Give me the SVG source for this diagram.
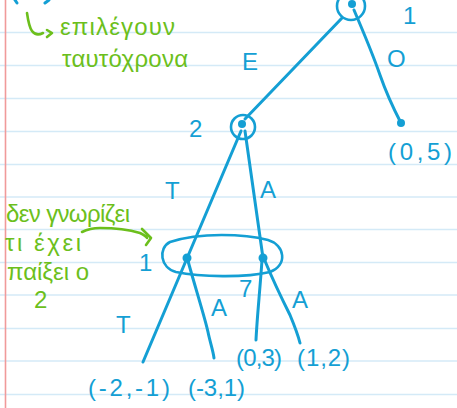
<svg xmlns="http://www.w3.org/2000/svg" width="457" height="408" viewBox="0 0 457 408">
<style>
.rule{stroke:#d4eaf7;stroke-width:1.6}
.b{stroke:#149fd4;fill:none;stroke-width:3;stroke-linecap:round;stroke-linejoin:round}
.bc{stroke:#149fd4;fill:none;stroke-width:2.6}
.dot{fill:#149fd4}
.bt{fill:#149fd4;font-family:"Liberation Sans","DejaVu Sans",sans-serif;font-size:24px}
.g{stroke:#6cbf1c;fill:none;stroke-width:2.6;stroke-linecap:round;stroke-linejoin:round}
.gt{fill:#6cbf1c;font-family:"Liberation Sans","DejaVu Sans",sans-serif;font-size:24px}
</style>
<rect width="457" height="408" fill="#ffffff"/>
<g id="paper">
<line class="rule" x1="0" y1="32.5" x2="457" y2="32.5"/>
<line class="rule" x1="0" y1="65.5" x2="457" y2="65.5"/>
<line class="rule" x1="0" y1="98.5" x2="457" y2="98.5"/>
<line class="rule" x1="0" y1="131.5" x2="457" y2="131.5"/>
<line class="rule" x1="0" y1="164.5" x2="457" y2="164.5"/>
<line class="rule" x1="0" y1="197" x2="457" y2="197"/>
<line class="rule" x1="0" y1="229.5" x2="457" y2="229.5"/>
<line class="rule" x1="0" y1="262.5" x2="457" y2="262.5"/>
<line class="rule" x1="0" y1="295" x2="457" y2="295"/>
<line class="rule" x1="0" y1="328.5" x2="457" y2="328.5"/>
<line class="rule" x1="0" y1="361" x2="457" y2="361"/>
<line class="rule" x1="0" y1="394.5" x2="457" y2="394.5"/>
<line x1="5.5" y1="0" x2="5.5" y2="408" stroke="#f09a9a" stroke-width="1.6"/>
<path class="b" d="M15,0 L17,3 M45,3 L49,0" stroke-width="2.5"/>
</g>
<g id="connectors">
<line class="b" x1="342" y1="18" x2="245" y2="119"/>
<path class="b" d="M354,10 Q372,52 380,75 Q388,98 401,123"/>
<line class="b" x1="241" y1="131" x2="143" y2="362"/>
<line class="b" x1="245" y1="131" x2="263" y2="258"/>
<path class="b" d="M188,261 C196,290 205,318 208,332 C210,342 213,350 214,358"/>
<path class="b" d="M262,260 C260,290 257,318 256,340"/>
<path class="b" d="M265,261 C275,285 285,305 290,315 C295,327 298,335 300,343"/>
</g>
<g id="node1">
<circle class="bc" cx="351" cy="6" r="14"/>
<circle class="dot" cx="352" cy="4" r="4"/>
<text class="bt" x="403" y="24" font-size="20">1</text>
</g>
<g id="node2">
<circle class="bc" cx="243" cy="127" r="12"/>
<circle class="dot" cx="242" cy="124" r="4"/>
<text class="bt" x="189" y="137">2</text>
</g>
<g id="infoset1">
<path class="bc" d="M170,242 C200,232 245,234 268,240 C285,245 288,265 270,272 C245,278 200,277 176,272 C160,268 158,248 170,242 Z"/>
<circle class="dot" cx="187" cy="258" r="4.5"/>
<circle class="dot" cx="263" cy="258" r="4.5"/>
<text class="bt" x="139" y="271">1</text>
</g>
<g id="leaf05">
<circle class="dot" cx="401" cy="123" r="4"/>
<text class="bt" x="388" y="160" textLength="64" lengthAdjust="spacing">(0,5)</text>
</g>
<g id="leafm2m1">
<text class="bt" x="88" y="396" textLength="82" lengthAdjust="spacing">(-2,-1)</text>
</g>
<g id="leafm31">
<text class="bt" x="188" y="396" textLength="57" lengthAdjust="spacing">(-3,1)</text>
</g>
<g id="leaf03">
<text class="bt" x="236" y="366" textLength="46" lengthAdjust="spacing" font-size="22">(0,3)</text>
</g>
<g id="leaf12">
<text class="bt" x="297" y="366" textLength="53" lengthAdjust="spacing" font-size="22">(1,2)</text>
</g>
<g id="edge-labels">
<text class="bt" x="242" y="70" font-size="26">E</text>
<text class="bt" x="387" y="67" font-size="26">O</text>
<text class="bt" x="165" y="199">T</text>
<text class="bt" x="260" y="198">A</text>
<text class="bt" x="116" y="333">T</text>
<text class="bt" x="211" y="316">A</text>
<text class="bt" x="239" y="297" font-size="20">7</text>
<text class="bt" x="292" y="308">A</text>
</g>
<g id="notes">
<path class="g" d="M27,13 C28,20 29,27 32,31 C35,35 39,35 43,33 M47,30 L52,33 L47,37"/>
<text class="gt" x="60" y="35" textLength="115" lengthAdjust="spacing">επιλέγουν</text>
<text class="gt" x="62" y="67" textLength="126" lengthAdjust="spacing">ταυτόχρονα</text>
<text class="gt" x="6" y="222" textLength="124" lengthAdjust="spacing">δεν γνωρίζει</text>
<text class="gt" x="5" y="251" textLength="76" lengthAdjust="spacing">τι έχει</text>
<text class="gt" x="7" y="280" textLength="82" lengthAdjust="spacing">παίξει ο</text>
<text class="gt" x="34" y="308">2</text>
<path class="g" d="M82,232 C88,229 94,228 100,228 C115,228 130,230 140,233 C144,235 146,236 147,238 M142,229 L151,238 L146,245"/>
</g>
</svg>
